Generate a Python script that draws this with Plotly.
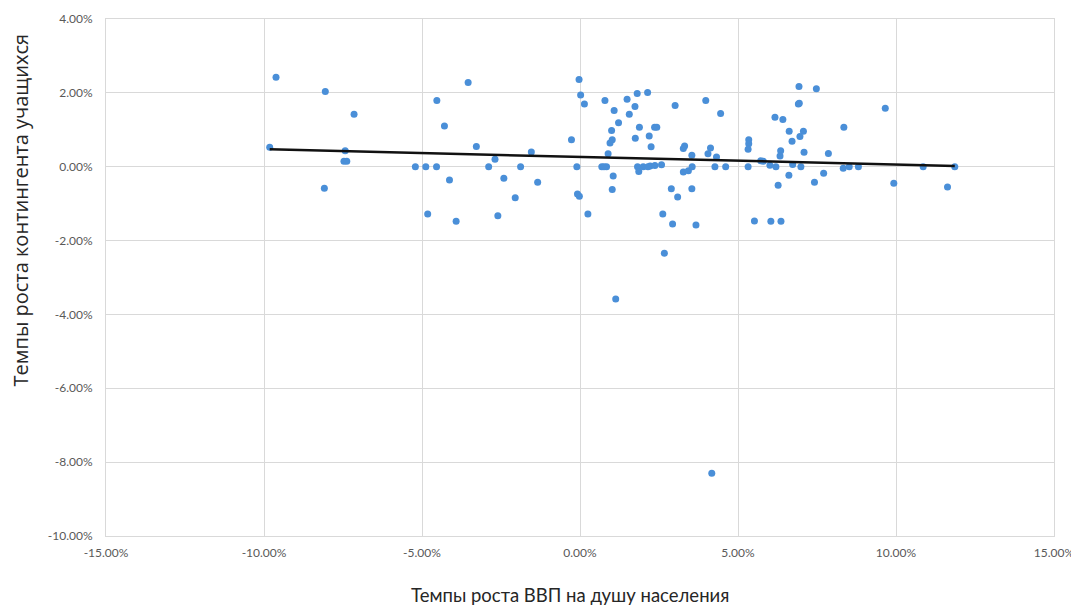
import plotly.graph_objects as go

# GDP per capita growth, % (x) and student enrolment growth, % (y)
gdp_growth = [
    -9.62, -8.06, -7.15, -9.82, -7.43, -7.47, -7.38, -8.09, -3.54, -4.53,
    -4.29, -3.28, -5.21, -4.88, -4.54, -4.13, -4.82, -3.92, -2.69, -2.89,
    -2.41, -2.60, -2.05, -1.88, -1.54, -1.34, -0.27,
    -0.03, 0.02, 0.14, -0.10, -0.08, -0.02, 0.25, 0.79, 1.08, 1.22,
    1.00, 1.02, 0.95, 0.89, 0.69, 0.84, 0.76, 1.05, 1.02, 1.49,
    1.81, 2.14, 1.74, 1.56, 1.88, 1.75, 2.19, 2.25, 2.36, 2.43,
    1.82, 1.86, 2.00, 2.22, 2.37, 2.58, 2.15, 3.01, 3.98, 4.45,
    3.31, 3.27, 3.54, 3.27, 3.43, 3.55, 4.13, 4.05, 4.32, 4.27,
    4.61, 2.89, 3.09, 3.54, 2.62, 2.93, 3.67, 2.67, 1.13, 4.17,
    5.34, 5.34, 5.32, 5.32, 5.52,
    5.72, 5.80, 6.01, 6.20, 6.04, 6.36, 6.17, 6.42, 6.62, 6.71,
    6.35, 6.33, 6.73, 6.61, 6.27, 6.93, 7.48, 6.91, 6.94, 7.07,
    6.96, 7.09, 6.99, 7.86, 7.71, 7.42, 8.35, 8.33, 8.52, 8.81,
    9.66, 9.93, 10.86, 11.63, 11.86,
]
enrol_growth = [
    2.42, 2.04, 1.42, 0.53, 0.43, 0.15, 0.15, -0.58, 2.28, 1.79,
    1.10, 0.55, 0.00, 0.00, 0.00, -0.36, -1.28, -1.48, 0.20, 0.00,
    -0.31, -1.33, -0.84, 0.00, 0.40, -0.42, 0.73,
    2.36, 1.94, 1.70, 0.00, -0.74, -0.80, -1.28, 1.79, 1.52, 1.19,
    0.98, 0.73, 0.64, 0.35, 0.00, 0.00, 0.00, -0.25, -0.62, 1.83,
    1.98, 2.01, 1.63, 1.42, 1.07, 0.77, 0.83, 0.54, 1.07, 1.07,
    0.00, -0.13, 0.00, 0.02, 0.03, 0.05, 0.00, 1.66, 1.79, 1.44,
    0.56, 0.49, 0.31, -0.14, -0.11, 0.00, 0.51, 0.35, 0.26, 0.00,
    0.00, -0.60, -0.82, -0.60, -1.28, -1.55, -1.58, -2.34, -3.58, -8.30,
    0.73, 0.62, 0.47, 0.00, -1.47,
    0.16, 0.15, 0.04, 0.00, -1.48, -1.48, 1.34, 1.28, 0.96, 0.69,
    0.43, 0.29, 0.06, -0.23, -0.50, 2.17, 2.11, 1.70, 1.72, 0.96,
    0.82, 0.39, 0.00, 0.36, -0.18, -0.42, 1.07, -0.04, 0.00, 0.00,
    1.58, -0.45, 0.00, -0.55, 0.00,
]

# Linear trend line endpoints
trend_x = [-9.82, 11.86]
trend_y = [0.47, 0.02]

x_ticks = [-15, -10, -5, 0, 5, 10, 15]
y_ticks = [4, 2, 0, -2, -4, -6, -8, -10]

x_title = "Темпы роста ВВП на душу населения"
y_title = "Темпы роста контингента учащихся"

grid = "#d9d9d9"
tick_color = "#595959"

# page body has an 8px margin, so the figure is placed at (8, 8)
W, H = 1071, 598
L, R, T, B = 97.5, 24.5, 11.3, 70
plot_w = W - L - R
plot_h = H - T - B

fig = go.Figure()
fig.add_trace(go.Scatter(
    x=gdp_growth, y=enrol_growth, mode="markers",
    marker=dict(size=7, color="#4a8fd8", line=dict(width=0)),
    showlegend=False, hoverinfo="x+y",
))
fig.add_trace(go.Scatter(
    x=trend_x, y=trend_y, mode="lines",
    line=dict(color="#111111", width=2.5),
    showlegend=False, hoverinfo="skip",
))

fig.update_layout(
    width=W, height=H,
    margin=dict(l=L, r=R, t=T, b=B, autoexpand=False),
    paper_bgcolor="white", plot_bgcolor="white",
    font=dict(family="Lato, 'Open Sans', sans-serif", color=tick_color),
    xaxis=dict(
        range=[-15, 15], tickvals=x_ticks,
        ticktext=[f"{v:.2f}%" for v in x_ticks],
        showgrid=True, gridcolor=grid, gridwidth=1,
        zeroline=True, zerolinecolor=grid, zerolinewidth=1,
        showline=True, linecolor=grid, linewidth=1, mirror=True,
        ticks="", ticklabelstandoff=6,
        tickfont=dict(size=12, color=tick_color, family="Lato"),
    ),
    yaxis=dict(
        range=[-10, 4], tickvals=y_ticks,
        ticktext=[f"{v:.2f}%" for v in y_ticks],
        showgrid=True, gridcolor=grid, gridwidth=1,
        zeroline=True, zerolinecolor=grid, zerolinewidth=1,
        showline=True, linecolor=grid, linewidth=1, mirror=True,
        ticks="", ticklabelstandoff=10,
        tickfont=dict(size=12, color=tick_color, family="Lato"),
    ),
    annotations=[
        dict(text=x_title, xref="paper", yref="paper",
             x=(562 - L) / plot_w, y=-(587 - (H - B)) / plot_h,
             xanchor="center", yanchor="middle", showarrow=False,
             font=dict(size=18.5, color="#262626", family="Lato")),
        dict(text=y_title, xref="paper", yref="paper",
             x=-(L - 12) / plot_w, y=((H - B) - 202) / plot_h,
             xanchor="center", yanchor="middle", showarrow=False, textangle=-90,
             font=dict(size=20, color="#262626", family="Open Sans")),
    ],
)

fig.write_html("out.html")
